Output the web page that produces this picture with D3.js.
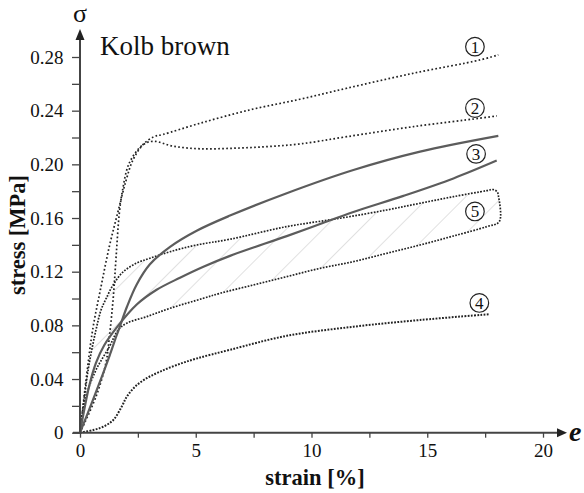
<!DOCTYPE html>
<html><head><meta charset="utf-8">
<script src="https://cdn.jsdelivr.net/npm/d3@7"></script>
<style>
html,body{margin:0;padding:0;background:#fff;}
svg{display:block;}
text{font-family:"Liberation Serif","Times New Roman",serif;fill:#111;}
</style></head>
<body>
<svg id="chart" width="584" height="493"></svg>
<script>
// ---- data (strain [%], stress [MPa]) ----
const curve1 = [[0,0],[0.26,0.039],[0.55,0.077],[0.91,0.109],[1.27,0.139],[1.63,0.164],[1.99,0.188],[2.28,0.203],[2.71,0.2145],[3.2,0.2207],[3.57,0.2222],[5.18,0.2306],[7.34,0.2406],[9.5,0.2485],[11.52,0.2567],[14.4,0.2679],[17.28,0.2778],[18.07,0.2816]];
const curve2 = [[0,0],[0.69,0.0268],[1.12,0.052],[1.27,0.0716],[1.44,0.1014],[1.56,0.1312],[1.7,0.1638],[1.84,0.1809],[2.13,0.201],[2.71,0.2145],[3.17,0.2172],[4.03,0.2135],[5.18,0.2116],[6.62,0.212],[8.06,0.2132],[9.5,0.2152],[11.52,0.2206],[14.4,0.2281],[17.28,0.2344],[18.0,0.2361]];
const curve3a = [[0,0],[0.56,0.0244],[0.99,0.0438],[1.3,0.0585],[1.56,0.0715],[1.73,0.0795],[2.02,0.0935],[2.45,0.1105],[3.02,0.1255],[3.89,0.1385],[5.04,0.1505],[6.48,0.1618],[8.93,0.1785],[11.81,0.1958],[14.69,0.2095],[18.07,0.2212]];
const curve3b = [[0,0],[0.4,0.035],[0.69,0.052],[1.04,0.065],[1.59,0.0785],[2.45,0.0955],[3.31,0.1065],[4.32,0.1155],[5.33,0.1237],[6.48,0.1318],[8.93,0.1465],[10.37,0.1555],[11.81,0.1645],[13.97,0.1765],[16.13,0.1895],[18.0,0.2028]];
const curve4 = [[0,0],[0.57,0.002],[1.01,0.0045],[1.44,0.0095],[1.8,0.0194],[2.02,0.0268],[2.38,0.0343],[2.88,0.0406],[3.46,0.0455],[4.18,0.0505],[5.04,0.0553],[6.48,0.0618],[8.93,0.0722],[11.81,0.079],[14.69,0.084],[17.68,0.0883]];
const band5Upper = [[0,0],[0.19,0.0268],[0.4,0.0517],[0.69,0.0766],[0.91,0.0915],[1.12,0.0997],[1.41,0.1095],[1.84,0.1195],[2.42,0.1262],[3.02,0.13],[3.89,0.1349],[5.04,0.1399],[6.48,0.1442],[8.93,0.1536],[11.23,0.1598],[13.25,0.166],[14.69,0.171],[16.13,0.1759],[17.57,0.1804],[17.85,0.1812],[18.02,0.1795],[18.08,0.176],[18.11,0.1573]];
const band5Lower = [[0,0],[0.26,0.0268],[0.69,0.0467],[1.27,0.0641],[1.65,0.0766],[2.02,0.0816],[2.88,0.0865],[3.89,0.0927],[5.33,0.1002],[6.05,0.1039],[7.49,0.1101],[8.93,0.1163],[10.37,0.1225],[11.81,0.1275],[13.25,0.1337],[14.69,0.1399],[16.13,0.1466],[17.57,0.1536]];
const curveLabels = ["1","2","3","4","5"];
const labelAnchors = [[17.06,0.2877],[17.06,0.242],[17.11,0.2078],[17.25,0.0967],[17.06,0.1649]];
const xTicks = [0,2.5,5,7.5,10,12.5,15,17.5,20];
const xTickLabels = ["0","","5","","10","","15","","20"];
const yTicks = [0,0.02,0.04,0.06,0.08,0.1,0.12,0.14,0.16,0.18,0.2,0.22,0.24,0.26,0.28];
const yTickLabels = ["0","","0.04","","0.08","","0.12","","0.16","","0.20","","0.24","","0.28"];
const title = "Kolb brown";
const xTitle = "strain [%]";
const yTitle = "stress [MPa]";

// ---- drawing ----
const svg = d3.select("#chart");
const x = d3.scaleLinear().domain([0,20]).range([80,543]);
const y = d3.scaleLinear().domain([0,0.28]).range([432.7,57]);
const axisColor = "#444";

const defs = svg.append("defs");
const pat = defs.append("pattern").attr("id","hatch").attr("patternUnits","userSpaceOnUse")
  .attr("width",26).attr("height",26).attr("patternTransform","rotate(45)");
pat.append("line").attr("x1",0).attr("y1",0).attr("x2",0).attr("y2",26)
  .attr("stroke","#c8c8c8").attr("stroke-width",1.1);

const line = d3.line().x(d=>x(d[0])).y(d=>y(d[1])).curve(d3.curveCatmullRom.alpha(0.5));

// band 5
const bandPts = band5Upper.concat(band5Lower.slice().reverse());
svg.append("path").attr("d",line(bandPts)).attr("fill","url(#hatch)").attr("stroke","none");
svg.append("path").attr("d",line(bandPts)).attr("fill","none")
  .attr("stroke","#222").attr("stroke-width",1.7).attr("stroke-dasharray","1.7,1.4");

function dotted(data, w, dash){
  svg.append("path").attr("d",line(data)).attr("fill","none")
    .attr("stroke","#222").attr("stroke-width",w).attr("stroke-dasharray",dash);
}
dotted(curve1,1.7,"1.7,2.3");
dotted(curve2,1.7,"1.7,2.3");
dotted(curve4,2,"1.8,1.4");
[curve3a,curve3b].forEach(c=>{
  svg.append("path").attr("d",line(c)).attr("fill","none")
    .attr("stroke","#5c5c5c").attr("stroke-width",2.2);
});

// axes ticks
const xAxis = d3.axisBottom(x).tickValues(xTicks).tickSize(5).tickPadding(5.5)
  .tickFormat((d,i)=>xTickLabels[i]);
const gx = svg.append("g").attr("transform",`translate(0,${y(0)})`).call(xAxis);
const yAxis = d3.axisLeft(y).tickValues(yTicks).tickSize(8).tickPadding(8.5)
  .tickFormat((d,i)=>yTickLabels[i]);
const gy = svg.append("g").attr("transform",`translate(${x(0)},0)`).call(yAxis);
[gx,gy].forEach(g=>{
  g.select(".domain").remove();
  g.selectAll(".tick line").attr("stroke",axisColor).attr("stroke-width",1.3);
  g.selectAll(".tick text").attr("font-family","Liberation Serif").attr("font-size",19).attr("fill","#111");
});

// axis lines with arrows
svg.append("line").attr("x1",73).attr("x2",559).attr("y1",y(0)).attr("y2",y(0))
  .attr("stroke",axisColor).attr("stroke-width",2);
svg.append("path").attr("d",`M567,${y(0)} L557,${y(0)-4.5} L557,${y(0)+4.5} Z`).attr("fill","#222");
svg.append("line").attr("x1",x(0)).attr("x2",x(0)).attr("y1",y(0)).attr("y2",38)
  .attr("stroke",axisColor).attr("stroke-width",2);
svg.append("path").attr("d",`M${x(0)},29 L${x(0)-4.5},40 L${x(0)+4.5},40 Z`).attr("fill","#222");

// axis symbols
svg.append("text").attr("x",x(0)).attr("y",21.5).attr("text-anchor","middle")
  .attr("font-size",26).text("σ");
svg.append("text").attr("x",569).attr("y",441).attr("font-size",28)
  .attr("font-weight","bold").attr("font-style","italic").text("e");

// titles
svg.append("text").attr("x",100).attr("y",55).attr("font-size",27).text(title);
svg.append("text").attr("x",315).attr("y",485).attr("text-anchor","middle")
  .attr("font-size",22.5).attr("font-weight","bold").text(xTitle);
svg.append("text").attr("transform","translate(25,235) rotate(-90)").attr("text-anchor","middle")
  .attr("font-size",22.5).attr("font-weight","bold").text(yTitle);

// circled curve labels
const lg = svg.append("g");
labelAnchors.forEach((p,i)=>{
  const cx = x(p[0]), cy = y(p[1]);
  lg.append("circle").attr("cx",cx).attr("cy",cy).attr("r",9.3)
    .attr("fill","none").attr("stroke","#222").attr("stroke-width",1.2);
  lg.append("text").attr("x",cx).attr("y",cy+6).attr("text-anchor","middle")
    .attr("font-size",17).text(curveLabels[i]);
});
</script>
</body></html>
